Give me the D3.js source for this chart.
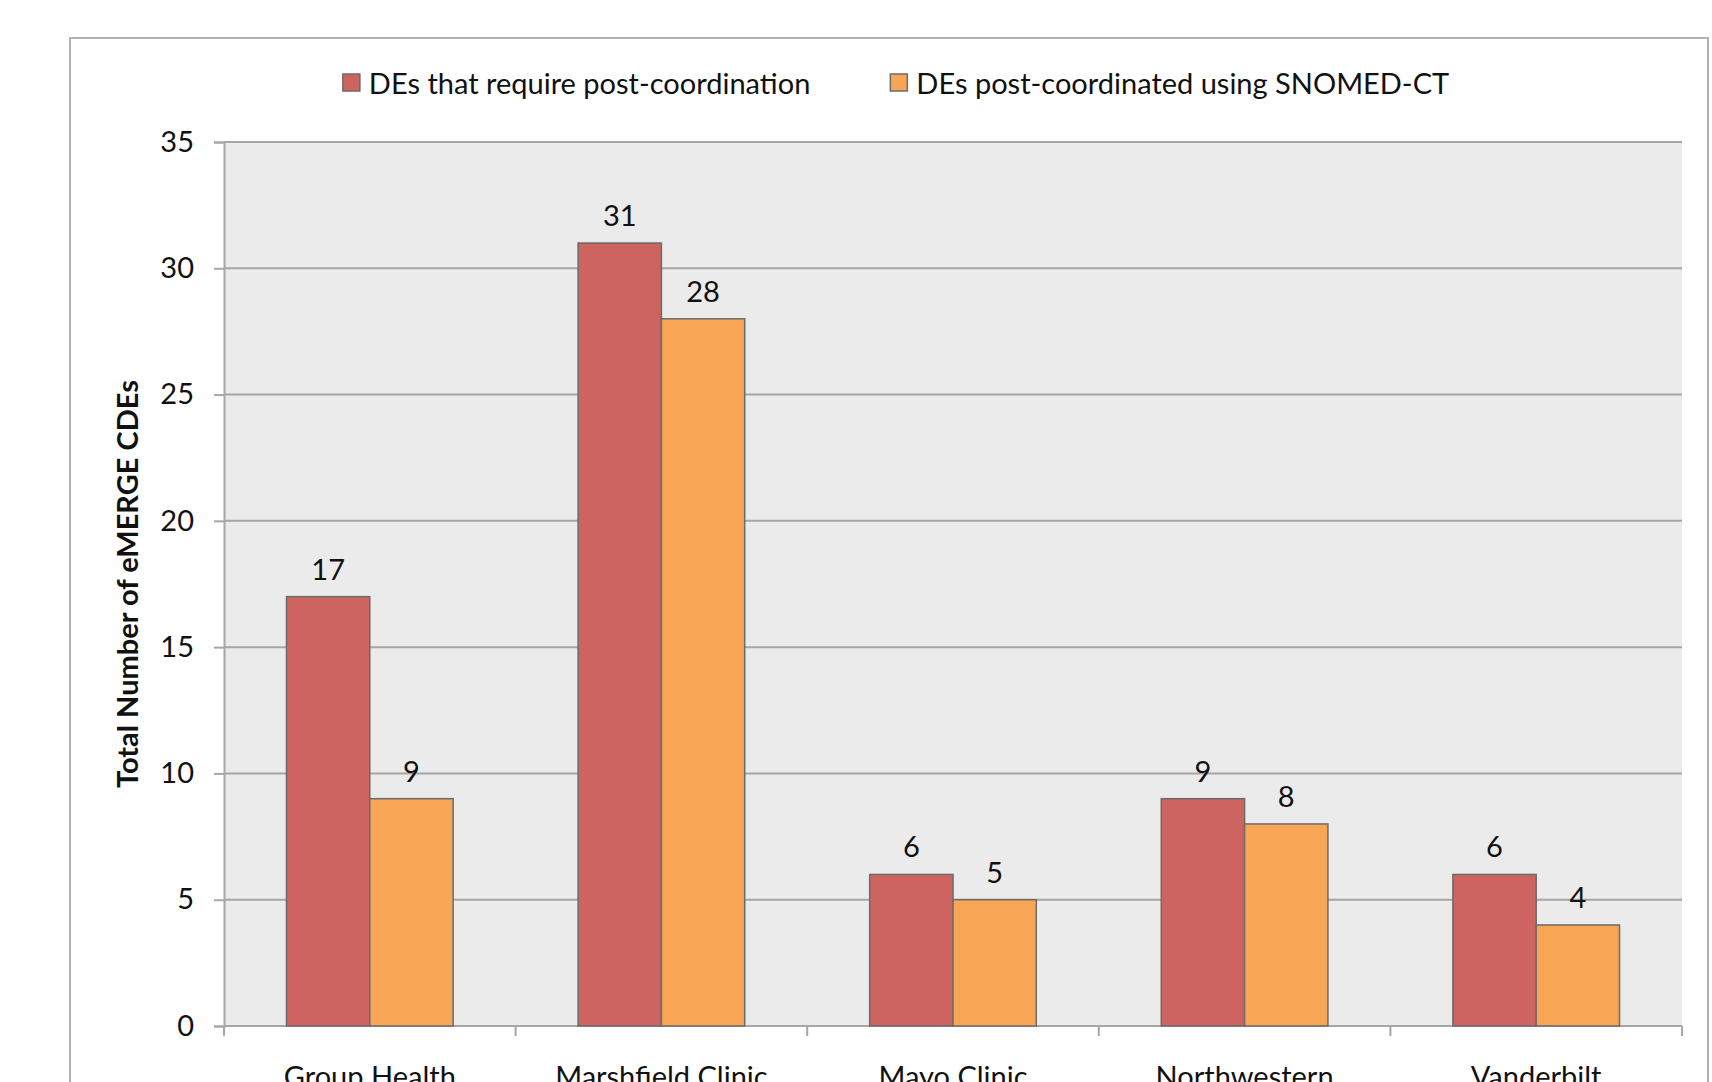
<!DOCTYPE html>
<html>
<head>
<meta charset="utf-8">
<script src="https://cdn.jsdelivr.net/npm/d3@7"></script>
<style>
  html, body { margin: 0; padding: 0; background: #ffffff; }
  svg { display: block; }
  text { font-family: "Lato", "Open Sans", sans-serif; fill: #111; }
</style>
</head>
<body>
<script>
const categories = ["Group Health", "Marshfield Clinic", "Mayo Clinic", "Northwestern", "Vanderbilt"];
const seriesNames = ["DEs that require post-coordination", "DEs post-coordinated using SNOMED-CT"];
const requireValues = [17, 31, 6, 9, 6];
const snomedValues = [9, 28, 5, 8, 4];
const yTicks = [0, 5, 10, 15, 20, 25, 30, 35];
const yTitle = "Total Number of eMERGE CDEs";
const colors = ["#CD6460", "#F9A556"];

const W = 1712, H = 1082;
const FS = 29;
const svg = d3.select("body").append("svg").attr("width", W).attr("height", H);

// outer chart frame
svg.append("rect").attr("x", 70).attr("y", 38).attr("width", 1638).attr("height", 1200)
  .attr("fill", "#fff").attr("stroke", "#b3b3b3").attr("stroke-width", 2);

const plot = { left: 224, right: 1682, top: 142, bottom: 1026 };

const x0 = d3.scaleBand().domain(categories).range([plot.left, plot.right]).paddingInner(0).paddingOuter(0);
const barW = x0.bandwidth() / 3.5;
const x1 = d3.scaleBand().domain([0, 1]).range([0, barW * 2]);
const y = d3.scaleLinear().domain([0, 35]).range([plot.bottom, plot.top]);

// plot background
svg.append("rect").attr("x", plot.left).attr("y", plot.top)
  .attr("width", plot.right - plot.left).attr("height", plot.bottom - plot.top)
  .attr("fill", "#ebebeb");

// gridlines
svg.append("g").selectAll("line").data(yTicks.filter(d => d > 0)).join("line")
  .attr("x1", plot.left).attr("x2", plot.right)
  .attr("y1", d => y(d)).attr("y2", d => y(d))
  .attr("stroke", "#a6a6a6").attr("stroke-width", 2);

// y axis
const yAxis = d3.axisLeft(y).tickValues(yTicks).tickSize(10).tickPadding(20).tickFormat(d3.format("d"));
const gy = svg.append("g").attr("transform", `translate(${plot.left},0)`).call(yAxis);
gy.select(".domain").attr("stroke", "#a6a6a6").attr("stroke-width", 2);
gy.selectAll(".tick line").attr("stroke", "#a6a6a6").attr("stroke-width", 2);
gy.selectAll(".tick text").attr("font-size", FS).attr("font-family", "Lato, sans-serif").attr("fill", "#111");

// x axis
const boundaries = categories.map(c => x0(c)).concat([plot.right]);
const gx = svg.append("g");
gx.append("line").attr("x1", plot.left).attr("x2", plot.right)
  .attr("y1", plot.bottom).attr("y2", plot.bottom)
  .attr("stroke", "#a6a6a6").attr("stroke-width", 2);
gx.selectAll("line.tk").data(boundaries).join("line").attr("class", "tk")
  .attr("x1", d => d).attr("x2", d => d)
  .attr("y1", plot.bottom).attr("y2", plot.bottom + 10)
  .attr("stroke", "#a6a6a6").attr("stroke-width", 2);
gx.selectAll("text").data(categories).join("text")
  .attr("x", d => x0(d) + x0.bandwidth() / 2)
  .attr("y", plot.bottom + 61)
  .attr("text-anchor", "middle")
  .attr("font-size", FS)
  .text(d => d);

// bars
const rows = categories.map((c, i) => ({ cat: c, vals: [requireValues[i], snomedValues[i]] }));
const groups = svg.append("g").selectAll("g").data(rows).join("g")
  .attr("transform", d => `translate(${x0(d.cat) + (x0.bandwidth() - 2 * barW) / 2},0)`);
groups.selectAll("rect").data(d => d.vals.map((v, k) => ({ v, k }))).join("rect")
  .attr("x", d => x1(d.k))
  .attr("y", d => y(d.v))
  .attr("width", x1.bandwidth())
  .attr("height", d => y(0) - y(d.v))
  .attr("fill", d => colors[d.k])
  .attr("stroke", "#6b6b6b").attr("stroke-width", 1.5);
groups.selectAll("text").data(d => d.vals.map((v, k) => ({ v, k }))).join("text")
  .attr("x", d => x1(d.k) + x1.bandwidth() / 2)
  .attr("y", d => y(d.v) - 17)
  .attr("text-anchor", "middle")
  .attr("font-size", FS)
  .text(d => d.v);

// y title
svg.append("text")
  .attr("transform", `translate(${138},${(plot.top + plot.bottom) / 2}) rotate(-90)`)
  .attr("text-anchor", "middle")
  .attr("font-size", FS)
  .attr("font-weight", "bold")
  .text(yTitle);

// legend
const legend = svg.append("g");
const items = legend.selectAll("g").data(seriesNames).join("g");
items.append("rect").attr("width", 17).attr("height", 17).attr("y", -10)
  .attr("fill", (d, i) => colors[i]).attr("stroke", "#6b6b6b").attr("stroke-width", 1.5);
items.append("text").attr("x", 26).attr("y", 0).attr("dy", "0.35em")
  .attr("font-size", FS).text(d => d);
const widths = [];
items.each(function () { widths.push(this.getBBox().width); });
const gap = 80;
const total = widths[0] + gap + widths[1];
let lx = 896 - total / 2;
items.attr("transform", (d, i) => `translate(${i === 0 ? lx : lx + widths[0] + gap},84)`);
</script>
</body>
</html>
